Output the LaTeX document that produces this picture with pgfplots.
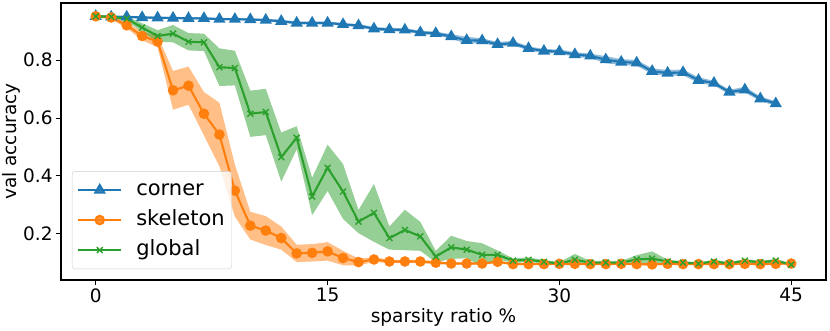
\documentclass[border=0pt]{standalone}
\usepackage{fontspec}
\setmainfont{DejaVu Sans}
\usepackage{pgfplots}
\pgfplotsset{compat=1.18}
\usepgfplotslibrary{fillbetween}
\usepackage{pgfplotstable}

\definecolor{c1}{HTML}{1F77B4}
\definecolor{c2}{HTML}{FF7F0E}
\definecolor{c3}{HTML}{2CA02C}
\newcommand{\fs}{\fontsize{18.5}{22}\selectfont}
\newcommand{\fl}{\fontsize{21}{25}\selectfont}

% x = sparsity ratio, y = mean val accuracy, e = half width of band
\pgfplotstableread{
x y e
0 0.952 0.004
1 0.950 0.004
2 0.950 0.004
3 0.948 0.004
4 0.947 0.004
5 0.946 0.004
6 0.945 0.004
7 0.945 0.004
8 0.942 0.004
9 0.942 0.004
10 0.941 0.004
11 0.939 0.004
12 0.935 0.005
13 0.929 0.005
14 0.929 0.005
15 0.929 0.005
16 0.924 0.005
17 0.920 0.005
18 0.909 0.006
19 0.906 0.006
20 0.905 0.006
21 0.896 0.006
22 0.893 0.006
23 0.882 0.008
24 0.869 0.012
25 0.868 0.008
26 0.855 0.008
27 0.859 0.008
28 0.841 0.007
29 0.832 0.007
30 0.830 0.007
31 0.820 0.008
32 0.815 0.008
33 0.802 0.012
34 0.794 0.010
35 0.791 0.010
36 0.762 0.010
37 0.756 0.010
38 0.758 0.010
39 0.731 0.010
40 0.721 0.008
41 0.690 0.008
42 0.698 0.010
43 0.667 0.008
44 0.650 0.008
}\tabcorner

\pgfplotstableread{
x y e
0 0.952 0.004
1 0.948 0.006
2 0.921 0.010
3 0.884 0.015
4 0.865 0.020
5 0.696 0.067
6 0.712 0.066
7 0.615 0.075
8 0.543 0.110
9 0.349 0.090
10 0.228 0.048
11 0.211 0.050
12 0.185 0.040
13 0.132 0.030
14 0.134 0.030
15 0.139 0.032
16 0.116 0.025
17 0.102 0.012
18 0.111 0.008
19 0.104 0.006
20 0.104 0.006
21 0.104 0.006
22 0.100 0.005
23 0.097 0.004
24 0.097 0.004
25 0.097 0.004
26 0.103 0.005
27 0.095 0.003
28 0.095 0.003
29 0.095 0.003
30 0.096 0.003
31 0.096 0.003
32 0.095 0.003
33 0.095 0.003
34 0.096 0.003
35 0.095 0.003
36 0.094 0.004
37 0.096 0.003
38 0.095 0.003
39 0.095 0.003
40 0.095 0.003
41 0.095 0.003
42 0.096 0.003
43 0.095 0.003
44 0.096 0.003
45 0.097 0.003
}\tabskeleton

\pgfplotstableread{
x y e
0 0.952 0.004
1 0.950 0.005
2 0.944 0.008
3 0.913 0.015
4 0.884 0.020
5 0.892 0.030
6 0.864 0.030
7 0.862 0.030
8 0.776 0.065
9 0.773 0.060
10 0.615 0.080
11 0.621 0.080
12 0.465 0.085
13 0.532 0.040
14 0.329 0.065
15 0.428 0.080
16 0.346 0.095
17 0.242 0.040
18 0.272 0.100
19 0.185 0.040
20 0.213 0.070
21 0.191 0.050
22 0.121 0.020
23 0.153 0.040
24 0.145 0.030
25 0.127 0.040
26 0.127 0.015
27 0.107 0.008
28 0.110 0.008
29 0.103 0.006
30 0.097 0.005
31 0.110 0.020
32 0.100 0.006
33 0.100 0.006
34 0.100 0.006
35 0.111 0.015
36 0.114 0.025
37 0.104 0.006
38 0.100 0.005
39 0.097 0.004
40 0.104 0.006
41 0.097 0.004
42 0.107 0.006
43 0.101 0.005
44 0.107 0.006
45 0.093 0.004
}\tabglobal

\begin{document}
\begin{tikzpicture}
\begin{axis}[
  scale only axis,
  width=765pt, height=277pt,
  xmin=-2.25, xmax=47.25,
  ymin=0.04, ymax=0.998,
  xtick={0,15,30,45},
  ytick={0.2,0.4,0.6,0.8},
  xtick pos=left, ytick pos=left,
  tick align=outside,
  major tick length=4.9pt,
  axis line style={line width=1.1pt},
  tick style={line width=1.1pt, black},
  /pgf/number format/assume math mode=true,
  yticklabel style={/pgf/number format/.cd, fixed, fixed zerofill, precision=1},
  tick label style={font=\fs},
  xlabel={sparsity ratio \%},
  ylabel={val accuracy},
  every axis x label/.style={at={(axis description cs:0.5,0)}, anchor=center, yshift=-37pt, font=\fs},
  every axis y label/.style={at={(axis description cs:0,0.5)}, anchor=center, rotate=90, yshift=50pt, font=\fs},
  legend cell align=left,
  legend style={at={(0,0)}, anchor=south west, xshift=11pt, yshift=11pt,
    font=\fl, draw=black!20, rounded corners=3pt, fill=white, fill opacity=0.8, text opacity=1,
    inner xsep=5pt, inner ysep=7pt, row sep=6.5pt, column sep=12pt,
    nodes={inner xsep=2pt, inner ysep=2pt, text height=15pt, text depth=4.5pt}},
  legend image code/.code={\draw[mark repeat=2, mark phase=2] plot coordinates {(0pt,0pt) (21.5pt,0pt) (43pt,0pt)};},
]
% corner
\addplot[draw=none, name path=cu, forget plot] table[x=x, y expr=\thisrow{y}+\thisrow{e}] {\tabcorner};
\addplot[draw=none, name path=cl, forget plot] table[x=x, y expr=\thisrow{y}-\thisrow{e}] {\tabcorner};
\addplot[fill=c1, fill opacity=0.5, draw=none, forget plot] fill between[of=cu and cl];
\addplot[c1, line width=2.1pt, mark=triangle*, mark size=5pt, mark options={solid}] table[x=x, y=y] {\tabcorner};
\addlegendentry{corner}
% skeleton
\addplot[draw=none, name path=su, forget plot] table[x=x, y expr=\thisrow{y}+\thisrow{e}] {\tabskeleton};
\addplot[draw=none, name path=sl, forget plot] table[x=x, y expr=\thisrow{y}-\thisrow{e}] {\tabskeleton};
\addplot[fill=c2, fill opacity=0.5, draw=none, forget plot] fill between[of=su and sl];
\addplot[c2, line width=2.1pt, mark=*, mark size=4.2pt] table[x=x, y=y] {\tabskeleton};
\addlegendentry{skeleton}
% global
\addplot[draw=none, name path=gu, forget plot] table[x=x, y expr=\thisrow{y}+\thisrow{e}] {\tabglobal};
\addplot[draw=none, name path=gl, forget plot] table[x=x, y expr=\thisrow{y}-\thisrow{e}] {\tabglobal};
\addplot[fill=c3, fill opacity=0.5, draw=none, forget plot] fill between[of=gu and gl];
\addplot[c3, line width=2.1pt, mark=x, mark size=4.2pt, mark options={line width=1.4pt}] table[x=x, y=y] {\tabglobal};
\addlegendentry{global}
\end{axis}
\pgfresetboundingbox
\path[use as bounding box] (-61pt,-50pt) rectangle (769pt,280pt);
\end{tikzpicture}
\end{document}
